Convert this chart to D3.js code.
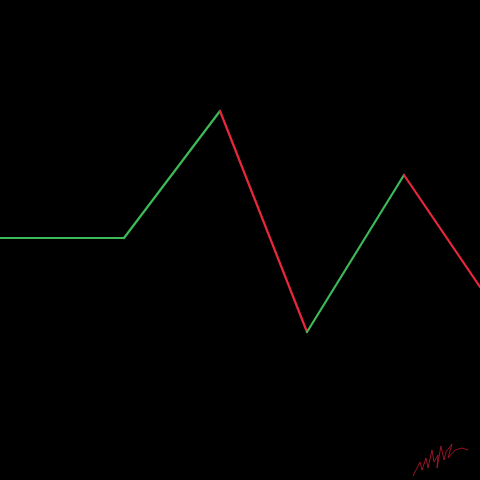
<!DOCTYPE html>
<html>
<head>
<meta charset="utf-8">
<script src="https://cdn.jsdelivr.net/npm/d3@7"></script>
<style>
  html, body { margin: 0; padding: 0; background: #000; }
  svg { display: block; }
</style>
</head>
<body>
<div id="chart"></div>
<script>
// data
var steps  = [0, 124, 220, 307, 404, 480];
var values = [242, 242, 369, 148, 305, 193];

var width = 480, height = 480;
var upColor = "#3cba58", downColor = "#e8283a";

var svg = d3.select("#chart")
    .append("svg")
        .attr("width", width)
        .attr("height", height)
        .style("background", "#000");

var xScale = d3.scaleLinear().domain([0, 480]).range([0, width]);
var yScale = d3.scaleLinear().domain([0, 480]).range([height, 0]);

var points = steps.map(function(s, i) { return {x: s, y: values[i]}; });

// one segment per step, green when rising or flat, red when falling
var segs = d3.pairs(points);
svg.selectAll("line.seg")
    .data(segs)
    .enter()
    .append("line")
    .attr("class", "seg")
    .attr("x1", function(d) { return xScale(d[0].x); })
    .attr("y1", function(d) { return yScale(d[0].y); })
    .attr("x2", function(d) { return xScale(d[1].x); })
    .attr("y2", function(d) { return yScale(d[1].y); })
    .style("stroke", function(d) { return d[1].y < d[0].y ? downColor : upColor; })
    .style("stroke-width", 2.2)
    .style("stroke-linecap", "round");

// signature scribble in the corner
svg.append("path")
    .attr("d", "M413,476 L420,462 L422,470 L426,458 L428,468 L432,450 L434,462 L438,455 L437,468 L441,446 L444,460 L446,452 L452,444 L448,458 L455,450 L462,448 L468,450")
    .style("fill", "none")
    .style("stroke", "#b0182c")
    .style("stroke-width", 1)
    .style("opacity", 0.85);
</script>
</body>
</html>
